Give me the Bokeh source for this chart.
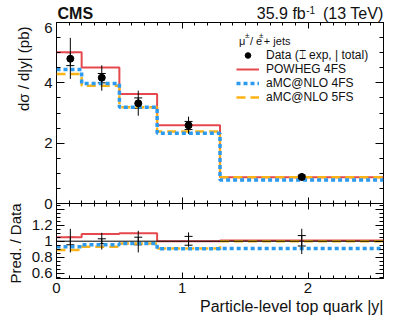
import numpy as np
from bokeh.plotting import figure
from bokeh.layouts import column
from bokeh.models import (Label, Legend, LegendItem, FixedTicker, LinearAxis, Whisker, Title,
                          ColumnDataSource, Span, Range1d, TeeHead)
from bokeh.embed import file_html
from bokeh.resources import INLINE

# ---------------- data ----------------
edges = [0.0, 0.2, 0.5, 0.8, 1.3, 2.6]
powheg_4fs = [5.01, 4.51, 3.63, 2.59, 0.87]
amcnlo_4fs = [4.44, 3.98, 3.19, 2.33, 0.78]
amcnlo_5fs = [4.29, 3.90, 3.19, 2.39, 0.87]

data_x = [0.11, 0.36, 0.65, 1.05, 1.95]
data_y = [4.80, 4.17, 3.32, 2.59, 0.88]
data_tot_up = [5.49, 4.58, 3.74, 2.88, 1.01]
data_tot_lo = [4.13, 3.74, 2.91, 2.31, 0.75]
data_exp_up = [5.00, 4.31, 3.50, 2.72, 0.94]
data_exp_lo = [4.57, 4.00, 3.15, 2.45, 0.83]

ratio_powheg_4fs = [1.05, 1.09, 1.10, 1.00, 1.01]
ratio_amcnlo_4fs = [0.93, 0.955, 0.97, 0.905, 0.91]
ratio_amcnlo_5fs = [0.89, 0.93, 0.97, 0.91, 1.00]
ratio_tot_up = [1.155, 1.105, 1.13, 1.11, 1.155]
ratio_tot_lo = [0.86, 0.896, 0.86, 0.93, 0.84]
ratio_exp_up = [1.05, 1.03, 1.05, 1.06, 1.07]
ratio_exp_lo = [0.955, 0.97, 0.955, 0.95, 0.94]

x_ticks = [0, 1, 2]
y_ticks_top = [0, 2, 4, 6]
y_ticks_ratio = [0.6, 0.8, 1.0, 1.2, 1.4]

RED = "#E5484D"
BLUE = "#2C9BEF"
ORANGE = "#FBB417"
FONT = "Liberation Sans"
INK = "#111111"


def stepped(v):
    return list(v) + [v[-1]]


def drop_title(p):
    try:
        p.title = None
    except Exception:
        p.title.text = ""
        p.title.visible = False


def style_axis(ax, ticks, minor, show_labels, overrides=None, major_len=8, minor_len=4):
    ax.ticker = FixedTicker(ticks=ticks, minor_ticks=minor)
    ax.axis_line_color = None
    ax.major_tick_in = major_len
    ax.major_tick_out = 0
    ax.minor_tick_in = minor_len
    ax.minor_tick_out = 0
    ax.major_tick_line_color = "black"
    ax.minor_tick_line_color = "black"
    ax.major_label_text_font = FONT
    if show_labels:
        ax.major_label_text_color = INK
        ax.major_label_text_font_size = "15px"
        ax.major_label_standoff = 4
    else:
        ax.major_label_text_color = None
        ax.major_label_text_font_size = "0px"
        ax.major_label_standoff = 0
    if overrides:
        ax.major_label_overrides = overrides


def side_title(p, text, side, size, standoff, offset=0, align="right"):
    p.add_layout(Title(text=text, align=align, text_font=FONT, text_font_size=size,
                       text_font_style="normal", text_color=INK, standoff=standoff,
                       offset=offset), side)


x_minor = list(np.round(np.arange(0, 2.61, 0.1), 2))
y_minor_top = list(np.round(np.arange(0, 6.01, 0.5), 2))
y_minor_ratio = list(np.round(np.arange(0.55, 1.47, 0.05), 2))

x_range = Range1d(0, 2.6)


def px2x(px):
    return (px - 55) / 126.15


COMMON = dict(output_backend="svg", toolbar_location=None,
              x_axis_location=None, y_axis_location=None)

# ---------------- header (experiment + luminosity) ----------------
hdr = figure(width=391, height=22, x_range=x_range, y_range=Range1d(0, 22),
             min_border=0, min_border_left=55, min_border_right=8, **COMMON)
drop_title(hdr)
hdr.grid.visible = False
hdr.outline_line_color = None
hdr.background_fill_color = None
hdr.border_fill_color = None


def hlabel(x, y, text, size, align="left", bold=False):
    hdr.add_layout(Label(x=x, y=y, text=text, text_font=FONT, text_font_size=size, text_align=align,
                         text_baseline="alphabetic", text_color=INK,
                         text_font_style="bold" if bold else "normal"))


hlabel(px2x(56), 9, "CMS", "16px", bold=True)
hlabel(px2x(305), 9, "35.9 fb", "16px", align="right")
hlabel(px2x(305.5), 13, "-1", "10px")
hlabel(2.6, 9, "(13 TeV)", "16px", align="right")

# ---------------- top panel ----------------
p1 = figure(width=391, height=189, x_range=x_range, y_range=Range1d(0, 6),
            min_border_left=55, min_border_right=8, min_border_top=0, min_border_bottom=8, **COMMON)
drop_title(p1)
p1.grid.visible = False
p1.outline_line_color = "black"
p1.outline_line_width = 1
p1.background_fill_color = "white"
p1.border_fill_color = None

ax_l = LinearAxis(); style_axis(ax_l, y_ticks_top, y_minor_top, True); p1.add_layout(ax_l, "left")
ax_r = LinearAxis(); style_axis(ax_r, y_ticks_top, y_minor_top, False); p1.add_layout(ax_r, "right")
ax_b = LinearAxis(); style_axis(ax_b, x_ticks, x_minor, False, major_len=6, minor_len=3); p1.add_layout(ax_b, "below")
ax_t = LinearAxis(); style_axis(ax_t, x_ticks, x_minor, False, major_len=6, minor_len=3); p1.add_layout(ax_t, "above")
side_title(p1, "d\u03c3 / d|y| (pb)", "left", "15px", standoff=19, offset=4)

r_pow = p1.step(edges, stepped(powheg_4fs), mode="after", line_color=RED, line_width=2)
r_a5 = p1.step(edges, stepped(amcnlo_5fs), mode="after", line_color=ORANGE, line_width=2.5, line_dash="9 5")
r_a4 = p1.step(edges, stepped(amcnlo_4fs), mode="after", line_color=BLUE, line_width=3.5, line_dash="4 3")

p1.segment(x0=data_x, y0=data_tot_lo, x1=data_x, y1=data_tot_up, line_color="black", line_width=1)
src_exp = ColumnDataSource(dict(x=data_x, up=data_exp_up, lo=data_exp_lo))
p1.add_layout(Whisker(source=src_exp, base="x", upper="up", lower="lo", line_color="black", line_width=1,
                      upper_head=TeeHead(size=8, line_color="black", line_width=1),
                      lower_head=TeeHead(size=8, line_color="black", line_width=1)))
r_data = p1.scatter(data_x, data_y, size=7, color="black")

legend = Legend(items=[LegendItem(label="Data (\u2336 exp, | total)", renderers=[r_data]),
                       LegendItem(label="POWHEG 4FS", renderers=[r_pow]),
                       LegendItem(label="aMC@NLO 4FS", renderers=[r_a4]),
                       LegendItem(label="aMC@NLO 5FS", renderers=[r_a5])],
                location=(180, 99), padding=0, margin=0, spacing=0,
                label_height=14, glyph_height=14, glyph_width=23, label_standoff=7,
                label_text_font=FONT, label_text_font_size="12px", label_text_color=INK,
                background_fill_alpha=0, border_line_color=None)
p1.add_layout(legend)


def py2y(py):
    return (203 - py) / 30.17


def add_label(p, x, y, text, size):
    p.add_layout(Label(x=x, y=y, text=text, text_font=FONT, text_font_size=size, text_align="left",
                       text_baseline="alphabetic", text_color=INK))


add_label(p1, px2x(238), py2y(40), "\u03bc", "11px")
add_label(p1, px2x(244), py2y(35), "\u00b1", "8px")
add_label(p1, px2x(249), py2y(40), "/ e", "11px")
add_label(p1, px2x(258), py2y(35), "\u00b1", "8px")
add_label(p1, px2x(263), py2y(40), "+ jets", "11px")

# ---------------- ratio panel ----------------
p2 = figure(width=391, height=119, x_range=x_range, y_range=Range1d(0.535, 1.47),
            min_border_left=55, min_border_right=8, min_border_top=0, min_border_bottom=44,
            margin=(-8, 0, 0, 0), **COMMON)
drop_title(p2)
p2.grid.visible = False
p2.outline_line_color = "black"
p2.outline_line_width = 1
p2.background_fill_color = "white"
p2.border_fill_color = None

ov = {0.6: "0.6", 0.8: "0.8", 1.0: "1", 1.2: "1.2", 1.4: ""}
bx_l = LinearAxis(); style_axis(bx_l, y_ticks_ratio, y_minor_ratio, True, overrides=ov); p2.add_layout(bx_l, "left")
bx_r = LinearAxis(); style_axis(bx_r, y_ticks_ratio, y_minor_ratio, False); p2.add_layout(bx_r, "right")
bx_b = LinearAxis(); style_axis(bx_b, x_ticks, x_minor, True, major_len=6, minor_len=3); p2.add_layout(bx_b, "below")
bx_t = LinearAxis(); style_axis(bx_t, x_ticks, x_minor, False, major_len=6, minor_len=3); p2.add_layout(bx_t, "above")
side_title(p2, "Pred. / Data", "left", "15px", standoff=9, offset=0)
side_title(p2, "Particle-level top quark |y|", "below", "16px", standoff=0, offset=0)

p2.add_layout(Span(location=1.0, dimension="width", line_color="black", line_width=1))
p2.step(edges, stepped(ratio_powheg_4fs), mode="after", line_color=RED, line_width=2)
p2.step(edges, stepped(ratio_amcnlo_5fs), mode="after", line_color=ORANGE, line_width=2.5, line_dash="9 5")
p2.step(edges, stepped(ratio_amcnlo_4fs), mode="after", line_color=BLUE, line_width=3.5, line_dash="4 3")

p2.segment(x0=data_x, y0=ratio_tot_lo, x1=data_x, y1=ratio_tot_up, line_color="black", line_width=1)
src_rexp = ColumnDataSource(dict(x=data_x, up=ratio_exp_up, lo=ratio_exp_lo))
p2.add_layout(Whisker(source=src_rexp, base="x", upper="up", lower="lo", line_color="black", line_width=1,
                      upper_head=TeeHead(size=8, line_color="black", line_width=1),
                      lower_head=TeeHead(size=8, line_color="black", line_width=1)))

layout = column(hdr, p1, p2, spacing=0)
open("out.html", "w").write(file_html(layout, INLINE))
